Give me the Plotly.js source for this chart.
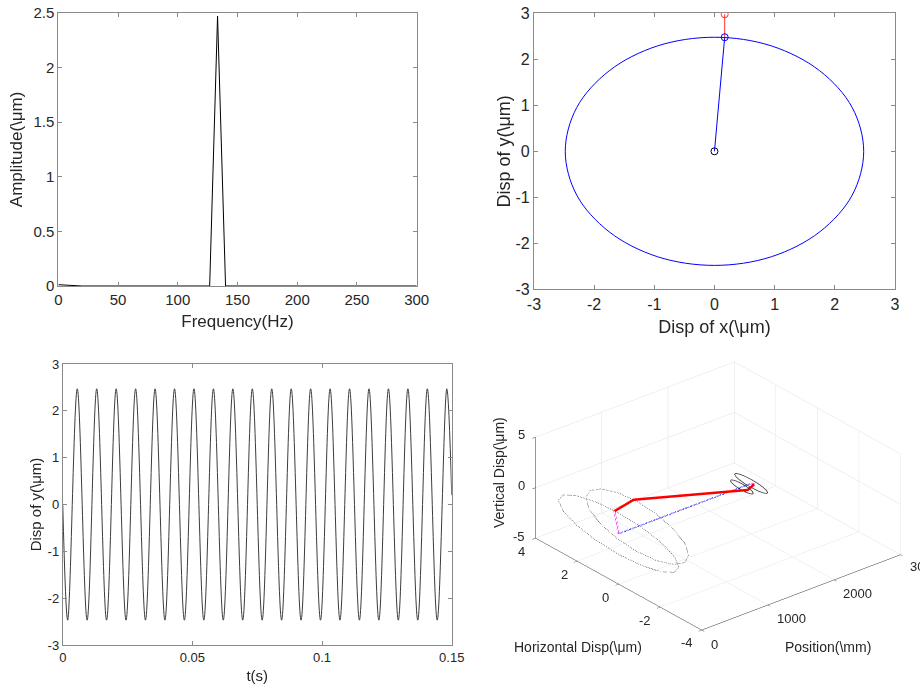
<!DOCTYPE html>
<html><head><meta charset="utf-8">
<script src="https://cdn.plot.ly/plotly-3.0.1.min.js"></script>
<style>html,body{margin:0;padding:0;background:#fff}</style>
</head><body><div id="chart" style="width:920px;height:690px"></div>
<script>
// ---- Top-left: amplitude spectrum ----
const specFreq = [0, 6.7, 13.3, 20, 126.7, 133.3, 140, 300];
const specAmp  = [0.012, 0.008, 0.004, 0.0, 0.0, 2.47, 0.0, 0.0];

// ---- Top-right: orbit ----
const orbitX = [2.48, 2.29, 1.75, 0.95, 0, -0.95, -1.75, -2.29, -2.48, -2.29, -1.75, -0.95, 0, 0.95, 1.75, 2.29, 2.48];
const orbitY = [0, 0.95, 1.75, 2.29, 2.48, 2.29, 1.75, 0.95, 0, -0.95, -1.75, -2.29, -2.48, -2.29, -1.75, -0.95, 0];
const centerPt = [0, 0];
const rotorPt  = [0.17, 2.48];
const forcePt  = [0.17, 2.98];

// ---- Bottom-left: time signal (extrema) ----
const timeT = [0, 0.0019, 0.0056, 0.0094, 0.0131, 0.0169, 0.0206, 0.0244, 0.0281, 0.0319, 0.0356,
  0.0394, 0.0431, 0.0469, 0.0506, 0.0544, 0.0581, 0.0619, 0.0656, 0.0694, 0.0731,
  0.0769, 0.0806, 0.0844, 0.0881, 0.0919, 0.0956, 0.0994, 0.1031, 0.1069, 0.1106,
  0.1144, 0.1181, 0.1219, 0.1256, 0.1294, 0.1331, 0.1369, 0.1406, 0.1444, 0.1481, 0.15];
const timeY = [0, -2.47, 2.47, -2.47, 2.47, -2.47, 2.47, -2.47, 2.47, -2.47, 2.47,
  -2.47, 2.47, -2.47, 2.47, -2.47, 2.47, -2.47, 2.47, -2.47, 2.47,
  -2.47, 2.47, -2.47, 2.47, -2.47, 2.47, -2.47, 2.47, -2.47, 2.47,
  -2.47, 2.47, -2.47, 2.47, -2.47, 2.47, -2.47, 2.47, -2.47, 2.47, 0.2];

// ---- Bottom-right: 3D shaft deflection ----
const nodePos = [0, 280, 1860, 2000];      // mm
const nodeH   = [0.2, 0.17, -0.28, -0.15]; // horizontal disp (um)
const nodeV   = [2.0, 2.47, 0.02, 0.09];   // vertical disp (um)
const orbitA  = [2.9, 2.48, 0.55, 0.8];    // horizontal semi-axis (um)
const orbitB  = [2.05, 2.48, 0.32, 0.4];   // vertical semi-axis (um)
const orbitStyle = ['dot', 'dot', 'solid', 'solid'];
const axisEnds = [0, 2000];

// tick values / labels
const specXTicks = [0, 50, 100, 150, 200, 250, 300];
const specYTicks = [0, 0.5, 1, 1.5, 2, 2.5];
const orbTicks = [-3, -2, -1, 0, 1, 2, 3];
const timeXTicks = [0, 0.05, 0.1, 0.15];
const timeYTicks = [-3, -2, -1, 0, 1, 2, 3];
const posTicks = [0, 1000, 2000, 3000];
const horTicks = [4, 2, 0, -2, -4];
const verTicks = [5, 0, -5];

const FONT = 'Liberation Sans, Arial, Helvetica, sans-serif';
const TXT = '#262626';
const FRAME = '#8a8a8a';

const traces = [];
traces.push({x: specFreq, y: specAmp, type: 'scatter', mode: 'lines',
  line: {color: '#000', width: 1}, xaxis: 'x', yaxis: 'y', showlegend: false});

traces.push({x: orbitX, y: orbitY, type: 'scatter', mode: 'lines',
  line: {color: '#0000ff', width: 1, shape: 'spline', smoothing: 1}, xaxis: 'x2', yaxis: 'y2', showlegend: false});
traces.push({x: [centerPt[0], rotorPt[0]], y: [centerPt[1], rotorPt[1]], type: 'scatter', mode: 'lines',
  line: {color: '#0000ff', width: 1}, xaxis: 'x2', yaxis: 'y2', showlegend: false});
traces.push({x: [rotorPt[0], forcePt[0]], y: [rotorPt[1], forcePt[1]], type: 'scatter', mode: 'lines',
  line: {color: '#ff3030', width: 1}, xaxis: 'x2', yaxis: 'y2', showlegend: false});
traces.push({x: [centerPt[0]], y: [centerPt[1]], type: 'scatter', mode: 'markers',
  marker: {symbol: 'circle-open', size: 7, color: '#000', line: {width: 1}}, xaxis: 'x2', yaxis: 'y2', showlegend: false});
traces.push({x: [rotorPt[0]], y: [rotorPt[1]], type: 'scatter', mode: 'markers',
  marker: {symbol: 'circle-open', size: 7, color: '#0000ff', line: {width: 1}}, xaxis: 'x2', yaxis: 'y2', showlegend: false});
traces.push({x: [forcePt[0]], y: [forcePt[1]], type: 'scatter', mode: 'markers',
  marker: {symbol: 'circle-open', size: 7, color: '#ff3030', line: {width: 1}}, xaxis: 'x2', yaxis: 'y2', showlegend: false});

traces.push({x: timeT, y: timeY, type: 'scatter', mode: 'lines',
  line: {color: '#3c3c3c', width: 1, shape: 'spline', smoothing: 1}, xaxis: 'x3', yaxis: 'y3', showlegend: false});

// orbits in 3D (shape taken from the measured orbit, scaled by each node's semi-axes)
for (let i = 0; i < nodePos.length; i++) {
  const xs = [], ys = [], zs = [];
  for (let j = 0; j < orbitX.length; j++) {
    xs.push(nodePos[i]);
    ys.push(orbitX[j] / 2.48 * orbitA[i]);
    zs.push(orbitY[j] / 2.48 * orbitB[i]);
  }
  traces.push({type: 'scatter3d', mode: 'lines', x: xs, y: ys, z: zs, showlegend: false,
    line: {color: orbitStyle[i] === 'dot' ? '#303030' : '#333333', width: 1.5, dash: orbitStyle[i]}});
}
traces.push({type: 'scatter3d', mode: 'lines', x: axisEnds, y: [0, 0], z: [0, 0], showlegend: false,
  line: {color: '#0000ff', width: 2.5, dash: 'dashdot'}});
traces.push({type: 'scatter3d', mode: 'lines', x: [nodePos[0], nodePos[0]], y: [0, nodeH[0]], z: [0, nodeV[0]], showlegend: false,
  line: {color: '#ff00ff', width: 4, dash: 'dash'}});
traces.push({type: 'scatter3d', mode: 'lines', x: [nodePos[3], nodePos[3]], y: [0, nodeH[3]], z: [0, nodeV[3]], showlegend: false,
  line: {color: '#ff00ff', width: 4, dash: 'dash'}});
traces.push({type: 'scatter3d', mode: 'lines', x: nodePos, y: nodeH, z: nodeV, showlegend: false,
  line: {color: '#ff0000', width: 5}});

const lbl = v => String(v).replace('\u2212', '-');
function ax2d(domain, range, ticks, titleText, titleSize, tickSize, standoff, extra) {
  return Object.assign({
    domain: domain, range: range, tickvals: ticks, ticktext: ticks.map(lbl),
    showline: true, mirror: 'ticks', linecolor: FRAME, linewidth: 1,
    ticks: 'inside', ticklen: 4, tickcolor: FRAME, showgrid: false, zeroline: false,
    tickfont: {family: FONT, size: tickSize, color: TXT},
    title: {text: titleText, font: {family: FONT, size: titleSize, color: TXT}, standoff: standoff},
    fixedrange: true
  }, extra || {});
}

function ax3d(range, tickvals) {
  return {
    range: range, tickvals: tickvals, autorange: false,
    showgrid: true, gridcolor: '#e0e0e0', gridwidth: 1,
    showline: true, linecolor: '#333', linewidth: 1,
    zeroline: false, showbackground: false, showspikes: false,
    ticks: 'outside', ticklen: 4, tickcolor: '#333',
    showticklabels: false,
    title: {text: ''}
  };
}

// tick-label placement for the 3D panel (pixel positions of the label anchors)
const posTickPix = [[714, 644], [791.7, 618.3], [857.7, 593.3], [925, 566.7]];
const horTickPix = [[521.7, 551.7], [564, 574.3], [605, 597.3], [645, 620], [686.7, 642.7]];
const verTickPix = [[527, 434.3], [527, 485.7], [527, 536.7]];

const ann = [];
function pixAnn(text, px, py, xanchor, size, angle) {
  ann.push({text: text, x: px / 920, y: 1 - py / 690, xref: 'paper', yref: 'paper',
    xanchor: xanchor || 'center', yanchor: 'middle', showarrow: false, textangle: angle || 0,
    font: {family: FONT, size: size || 13, color: TXT}});
}
posTicks.forEach((v, i) => pixAnn(String(v), posTickPix[i][0], posTickPix[i][1]));
horTicks.forEach((v, i) => pixAnn(String(v), horTickPix[i][0], horTickPix[i][1]));
verTicks.forEach((v, i) => pixAnn(String(v), verTickPix[i][0], verTickPix[i][1], 'right'));
pixAnn('Vertical Disp(\\μm)', 499, 473, 'center', 14, -90);
pixAnn('Horizontal Disp(\\μm)', 578, 647, 'center', 14);
pixAnn('Position(\\mm)', 828, 647, 'center', 14);

const s = 1.33;
const layout = {
  width: 920, height: 690,
  margin: {l: 0, r: 0, t: 0, b: 0, pad: 0},
  paper_bgcolor: '#fff', plot_bgcolor: '#fff',
  showlegend: false, hovermode: false,
  font: {family: FONT, color: TXT},
  xaxis:  ax2d([0.0634, 0.4529], [0, 300], specXTicks, 'Frequency(Hz)', 17, 15, 8, {anchor: 'y'}),
  yaxis:  ax2d([0.5855, 0.9816], [0, 2.5], specYTicks, 'Amplitude(\\μm)', 17, 15, 6, {anchor: 'x'}),
  xaxis2: ax2d([0.5804, 0.9728], [-3, 3], orbTicks, 'Disp of x(\\μm)', 18, 16, 8, {anchor: 'y2'}),
  yaxis2: ax2d([0.5807, 0.9807], [-3, 3], orbTicks, 'Disp of y(\\μm)', 18, 16, 0, {anchor: 'x2'}),
  xaxis3: ax2d([0.0682, 0.4910], [0, 0.15], timeXTicks, 't(s)', 15, 13, 6, {anchor: 'y3'}),
  yaxis3: ax2d([0.0652, 0.4725], [-3, 3], timeYTicks, 'Disp of y(\\μm)', 15, 13, 2, {anchor: 'x3'}),
  scene: {
    domain: {x: [0.565, 0.995], y: [0.0, 0.5625]},
    bgcolor: 'rgba(0,0,0,0)',
    aspectmode: 'manual', aspectratio: {x: 1 * s, y: 1.01 * s, z: 0.44 * s},
    camera: {projection: {type: 'orthographic'},
      eye: {x: -0.567 * 1.5, y: -0.685 * 1.5, z: 0.458 * 1.5},
      up: {x: 0, y: 0, z: 1}, center: {x: 0, y: 0, z: 0}},
    xaxis: ax3d([0, 3000], posTicks),
    yaxis: ax3d([-4, 4], horTicks),
    zaxis: ax3d([-5, 5], verTicks)
  },
  annotations: ann
};

Plotly.newPlot('chart', traces, layout, {displayModeBar: false, responsive: false});
</script></body></html>
